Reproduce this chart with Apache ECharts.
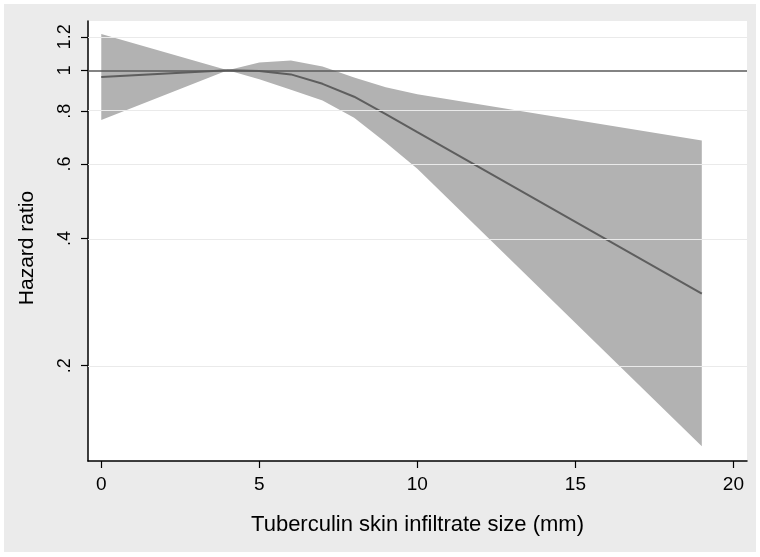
<!DOCTYPE html>
<html>
<head>
<meta charset="utf-8">
<script src="https://cdn.jsdelivr.net/npm/echarts@6/dist/echarts.min.js"></script>
<style>
html,body{margin:0;padding:0;background:#fff;}
#bg{position:absolute;left:4px;top:4px;width:752px;height:548px;background:#ebebeb;}
#chart{position:absolute;left:0;top:0;width:760px;height:557px;}
</style>
</head>
<body>
<div id="bg"></div>
<div id="chart"></div>
<script>
// Tuberculin skin infiltrate size (mm)
const sizes = [0, 4, 5, 6, 7, 8, 9, 10, 19];
// Hazard ratio and 95% CI
const hazard = [0.964, 1.0, 0.996, 0.978, 0.929, 0.866, 0.788, 0.714, 0.296];
const lowerCI = [0.763, 1.0, 0.953, 0.900, 0.848, 0.772, 0.675, 0.585, 0.129];
const upperCI = [1.219, 1.0, 1.044, 1.055, 1.021, 0.962, 0.912, 0.878, 0.682];
// Axis ticks
const xTicks = [0, 5, 10, 15, 20];
const yTicks = [0.2, 0.4, 0.6, 0.8, 1, 1.2];
const yTickLabels = ['.2', '.4', '.6', '.8', '1', '1.2'];
const refLine = 1;

const ln = Math.log;
const yTickPos = yTicks.map(v => ln(v));
const labelFor = v => {
  let best = 0, d = Infinity;
  yTickPos.forEach((p, i) => { const dd = Math.abs(p - v); if (dd < d) { d = dd; best = i; } });
  return yTickLabels[best];
};

const font = 'Liberation Sans, Arial, Helvetica, sans-serif';
const chart = echarts.init(document.getElementById('chart'), null, {renderer: 'canvas'});
chart.setOption({
  backgroundColor: 'transparent',
  animation: false,
  grid: {left: 88, top: 21, right: 13, bottom: 96, show: true, backgroundColor: '#ffffff', borderWidth: 0},
  xAxis: {
    type: 'value', min: -0.42, max: 20.43,
    name: 'Tuberculin skin infiltrate size (mm)', nameLocation: 'middle', nameGap: 53,
    nameTextStyle: {fontFamily: font, fontSize: 22, color: '#000'},
    axisLine: {show: true, onZero: false, lineStyle: {color: '#000', width: 1.5}},
    axisTick: {show: true, length: 7, customValues: xTicks, lineStyle: {color: '#000', width: 1.2}},
    axisLabel: {customValues: xTicks, fontFamily: font, fontSize: 19, color: '#000', margin: 14},
    splitLine: {show: false}
  },
  yAxis: {
    type: 'value', min: -2.129, max: 0.2687,
    name: 'Hazard ratio', nameLocation: 'middle', nameGap: 50, nameRotate: 90,
    nameTextStyle: {fontFamily: font, fontSize: 21, color: '#000', padding: [0, 14, 0, 0]},
    axisLine: {show: true, onZero: false, lineStyle: {color: '#000', width: 1.5}},
    axisTick: {show: true, length: 7, customValues: yTickPos, lineStyle: {color: '#000', width: 1.2}},
    axisLabel: {customValues: yTickPos, rotate: 90, fontFamily: font, fontSize: 18, color: '#000', margin: 14,
      formatter: v => labelFor(v)},
    splitLine: {show: false}
  },
  series: [
    {
      name: 'grid', type: 'line', z: 1, symbol: 'none', silent: true,
      lineStyle: {opacity: 0},
      data: sizes.map((x, i) => [x, ln(hazard[i])]),
      markLine: {
        silent: true, symbol: 'none', label: {show: false}, animation: false,
        data: yTicks.filter(v => v !== refLine).map(v => ({yAxis: ln(v), lineStyle: {color: '#eaeaea', width: 1.2, type: 'solid'}}))
          .concat([{yAxis: ln(refLine), lineStyle: {color: '#5a5a5a', width: 1.5, type: 'solid'}}])
      }
    },
    {
      name: 'band', type: 'custom', z: 2, silent: true,
      data: [[0, 0]],
      renderItem: function (params, api) {
        if (params.dataIndex !== 0) return null;
        const pts = [];
        for (let i = 0; i < sizes.length; i++) pts.push(api.coord([sizes[i], ln(upperCI[i])]));
        for (let i = sizes.length - 1; i >= 0; i--) pts.push(api.coord([sizes[i], ln(lowerCI[i])]));
        return {type: 'polygon', shape: {points: pts}, style: {fill: '#b2b2b2', stroke: null}};
      }
    },
    {
      name: 'hr', type: 'line', z: 3, symbol: 'none', silent: true,
      lineStyle: {color: '#5e5e5e', width: 2},
      data: sizes.map((x, i) => [x, ln(hazard[i])])
    }
  ]
});
</script>
</body>
</html>
